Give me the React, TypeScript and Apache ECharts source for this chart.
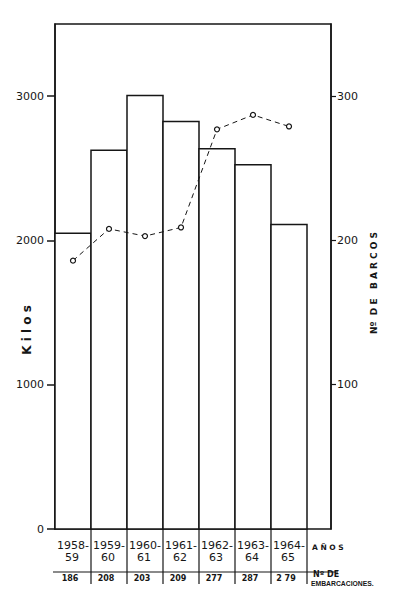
import React, { useEffect, useRef } from "react";
import * as echarts from "echarts";

const seasonStarts = ["1958-", "1959-", "1960-", "1961-", "1962-", "1963-", "1964-"];
const seasonEnds = ["59", "60", "61", "62", "63", "64", "65"];
const kilos = [2050, 2625, 3005, 2825, 2635, 2525, 2110];
const vessels = [186, 208, 203, 209, 277, 287, 279];
const vesselLabels = ["186", "208", "203", "209", "277", "287", "2 79"];
const leftTicks = [0, 1000, 2000, 3000];
const rightTicks = [100, 200, 300];

const INK = "#161616";
const FONT = '"DejaVu Sans", sans-serif';

export default function App() {
  const ref = useRef<HTMLDivElement>(null);
  useEffect(() => {
    if (!ref.current) return;
    const chart = echarts.init(ref.current, undefined, { renderer: "svg" });
    const gridTop = 24;
    const gridBottomY = 529;
    const option: any = {
      animation: false,
      backgroundColor: "#ffffff",
      grid: {
        left: 55,
        top: gridTop,
        width: 276,
        height: gridBottomY - gridTop,
        show: true,
        borderColor: INK,
        borderWidth: 1.5,
        backgroundColor: "transparent",
      },
      xAxis: {
        type: "value",
        min: 0,
        max: 276 / 36,
        show: false,
      },
      yAxis: [
        {
          type: "value",
          position: "left",
          min: 0,
          max: 3500,
          splitLine: { show: false },
          axisLine: { show: true, lineStyle: { color: INK, width: 1.5 } },
          axisTick: { show: true, customValues: leftTicks, length: 8, lineStyle: { color: INK, width: 1.5 } },
          axisLabel: {
            customValues: leftTicks,
            margin: 11,
            color: INK,
            fontSize: 11,
            fontFamily: FONT,
            formatter: (v: number) => String(v),
          },
        },
        {
          type: "value",
          position: "right",
          min: 0,
          max: 350,
          splitLine: { show: false },
          axisLine: { show: true, lineStyle: { color: INK, width: 1.5 } },
          axisTick: { show: true, customValues: rightTicks, length: 5, lineStyle: { color: INK, width: 1.2 } },
          axisLabel: {
            customValues: rightTicks,
            margin: 6,
            color: INK,
            fontSize: 11,
            fontFamily: FONT,
            formatter: (v: number) => String(v),
          },
        },
      ],
      series: [
        {
          type: "custom",
          name: "Kilos",
          yAxisIndex: 0,
          silent: true,
          data: kilos.map((v, i) => [i, v]),
          encode: { x: 0, y: 1 },
          renderItem: (params: any, api: any) => {
            const i = api.value(0);
            const v = api.value(1);
            const p0 = api.coord([i, v]);
            const p1 = api.coord([i + 1, 0]);
            return {
              type: "rect",
              shape: { x: p0[0], y: p0[1], width: p1[0] - p0[0], height: p1[1] - p0[1] },
              style: { fill: "#ffffff", stroke: INK, lineWidth: 1.5 },
            };
          },
        },
        {
          type: "line",
          name: "Nº de barcos",
          yAxisIndex: 1,
          data: vessels.map((v, i) => [i + 0.5, v]),
          symbol: "circle",
          symbolSize: 5,
          lineStyle: { color: INK, width: 1, type: [5, 4] },
          itemStyle: { color: "#ffffff", borderColor: INK, borderWidth: 1.2 },
          z: 5,
        },
        {
          type: "custom",
          name: "table",
          yAxisIndex: 0,
          silent: true,
          clip: false,
          data: seasonStarts.map((s, i) => [i, 0]),
          encode: { x: 0, y: 1 },
          renderItem: (params: any, api: any) => {
            const i = params.dataIndex;
            const pl = api.coord([i, 0]);
            const pr = api.coord([i + 1, 0]);
            const cx = (pl[0] + pr[0]) / 2;
            const y0 = pl[1];
            return {
              type: "group",
              children: [
                {
                  type: "line",
                  shape: { x1: pr[0], y1: y0, x2: pr[0], y2: y0 + 55 },
                  style: { stroke: INK, lineWidth: 1.2 },
                },
                {
                  type: "text",
                  x: cx,
                  y: y0 + 16,
                  style: {
                    text: seasonStarts[i],
                    fill: INK,
                    font: `11px ${FONT}`,
                    align: "center",
                    verticalAlign: "middle",
                  },
                },
                {
                  type: "text",
                  x: cx - 1,
                  y: y0 + 28,
                  style: {
                    text: seasonEnds[i],
                    fill: INK,
                    font: `11px ${FONT}`,
                    align: "center",
                    verticalAlign: "middle",
                  },
                },
                {
                  type: "text",
                  x: cx - 3,
                  y: y0 + 49,
                  style: {
                    text: vesselLabels[i],
                    fill: INK,
                    font: `bold 8px ${FONT}`,
                    align: "center",
                    verticalAlign: "middle",
                  },
                },
              ],
            };
          },
        },
      ],
      graphic: [
        {
          type: "line",
          shape: { x1: 53, y1: 572, x2: 338, y2: 572 },
          style: { stroke: INK, lineWidth: 1.2 },
          silent: true,
        },
        {
          type: "text",
          x: 27,
          y: 330,
          rotation: Math.PI / 2,
          style: {
            text: "K i l o s",
            fill: INK,
            font: `bold 12px ${FONT}`,
            align: "center",
            verticalAlign: "middle",
          },
        },
        {
          type: "text",
          x: 374,
          y: 283,
          rotation: Math.PI / 2,
          style: {
            text: "Nº  D E   B A R C O S",
            fill: INK,
            font: `bold 9px ${FONT}`,
            align: "center",
            verticalAlign: "middle",
          },
        },
        {
          type: "text",
          x: 312,
          y: 547,
          style: {
            text: "A Ñ O S",
            fill: INK,
            font: `bold 7.5px ${FONT}`,
            align: "left",
            verticalAlign: "middle",
          },
        },
        {
          type: "text",
          x: 313,
          y: 574,
          style: {
            text: "Nº DE",
            fill: INK,
            font: `bold 8px ${FONT}`,
            align: "left",
            verticalAlign: "middle",
          },
        },
        {
          type: "text",
          x: 311,
          y: 583,
          style: {
            text: "EMBARCACIONES.",
            fill: INK,
            font: `bold 6.8px "Liberation Sans", sans-serif`,
            align: "left",
            verticalAlign: "middle",
          },
        },
      ],
    };
    chart.setOption(option);
    return () => chart.dispose();
  }, []);
  return (
    <div
      ref={ref}
      style={{ position: "fixed", left: 0, top: 0, width: 400, height: 603, background: "#fff" }}
    />
  );
}
